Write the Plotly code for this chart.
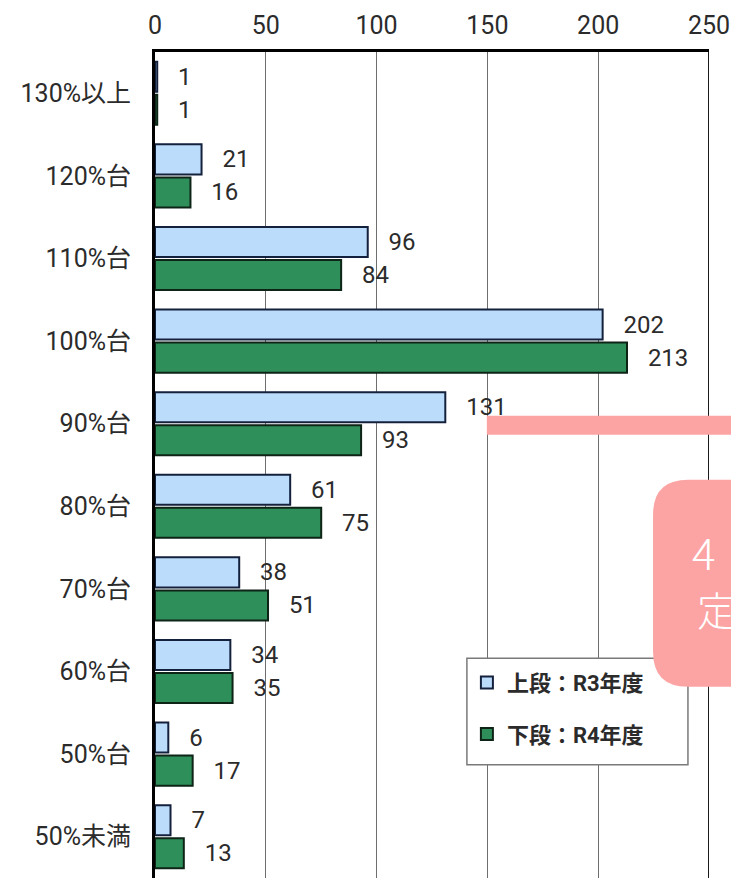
import plotly.graph_objects as go

categories = ["130%以上", "120%台", "110%台", "100%台", "90%台", "80%台", "70%台", "60%台", "50%台", "50%未満"]
r3_values = [1, 21, 96, 202, 131, 61, 38, 34, 6, 7]
r4_values = [1, 16, 84, 213, 93, 75, 51, 35, 17, 13]
series_names = ["上段：R3年度", "下段：R4年度"]
x_ticks = [0, 50, 100, 150, 200, 250]

FONT = "Roboto, Noto Sans CJK JP, sans-serif"
TXT = "#2b2b2b"
PAD = "\u00a0\u00a0\u00a0"
PINK = "#fca4a4"

fig = go.Figure()
fig.add_trace(go.Bar(
    y=categories, x=r3_values, orientation="h", name=series_names[0],
    marker=dict(color="#bcdcfb", line=dict(color="#14213d", width=2)),
    text=[PAD + str(v) for v in r3_values], textposition="outside", cliponaxis=False,
    textfont=dict(family=FONT, size=24, color=TXT), legendgroup="a",
))
fig.add_trace(go.Bar(
    y=categories, x=r4_values, orientation="h", name=series_names[1],
    marker=dict(color="#2e8f5a", line=dict(color="#0d2416", width=2)),
    text=[PAD + str(v) for v in r4_values], textposition="outside", cliponaxis=False,
    textfont=dict(family=FONT, size=24, color=TXT), legendgroup="b",
))

fig.update_layout(
    width=731, height=878,
    margin=dict(l=155, r=22, t=52, b=0),
    paper_bgcolor="white", plot_bgcolor="white",
    barmode="group", bargap=0.2, bargroupgap=0.09,
    font=dict(family=FONT, color=TXT),
    showlegend=True,
    legend=dict(
        x=0.563, y=0.262, xanchor="left", yanchor="top",
        bgcolor="rgba(0,0,0,0)", borderwidth=0,
        font=dict(family=FONT, size=22, color=TXT, weight="bold"),
        traceorder="grouped", tracegroupgap=20,
        itemwidth=30,
    ),
    xaxis=dict(
        side="top", range=[0, 250], tickvals=x_ticks,
        showgrid=True, gridcolor="#6e6e6e", gridwidth=1,
        zeroline=False, showline=True, linecolor="black", linewidth=3,
        tickfont=dict(family=FONT, size=25, color=TXT), ticklabelstandoff=5,
        fixedrange=True,
    ),
    yaxis=dict(
        type="category", categoryorder="array", categoryarray=categories,
        autorange="reversed", showgrid=False, zeroline=False,
        showline=True, linecolor="black", linewidth=3,
        tickfont=dict(family=FONT, size=25, color=TXT), ticklabelstandoff=16,
        fixedrange=True,
    ),
    shapes=[
        dict(type="line", xref="x", yref="paper", x0=250, x1=250, y0=0, y1=1,
             line=dict(color="#1a1a1a", width=2)),
        dict(type="rect", xref="paper", yref="paper", x0=0.563, x1=0.962, y0=0.137, y1=0.266,
             fillcolor="white", line=dict(color="#7a7a7a", width=1.5), layer="above"),
        dict(type="line", xref="paper", yref="paper", x0=0.599, x1=1.2, y0=0.548, y1=0.548,
             line=dict(color=PINK, width=19)),
        dict(type="path", xref="paper", yref="paper", xsizemode="pixel", ysizemode="pixel",
             xanchor=0.899, yanchor=0.482,
             path="M 0,-35 Q 0,0 35,0 L 200,0 L 200,-207 L 35,-207 Q 0,-207 0,-172 Z",
             fillcolor=PINK, line=dict(width=0)),
    ],
    annotations=[
        dict(xref="paper", yref="paper", x=0.966, y=0.396, xanchor="left", yanchor="middle",
             text="4", showarrow=False,
             font=dict(family="Noto Sans CJK JP", size=44, color="white", weight=300)),
        dict(xref="paper", yref="paper", x=0.975, y=0.326, xanchor="left", yanchor="middle",
             text="定", showarrow=False,
             font=dict(family="Noto Sans CJK JP", size=40, color="white", weight=300)),
    ],
)

fig.write_html(
    "out.html",
    config={"displayModeBar": False},
    post_script="document.body.style.margin='0';document.body.style.overflow='hidden';",
)
